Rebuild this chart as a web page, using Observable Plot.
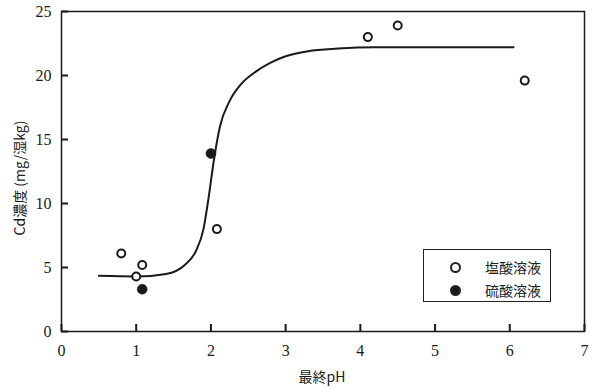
<!DOCTYPE html>
<html>
<head>
<meta charset="utf-8">
<script src="https://cdn.jsdelivr.net/npm/d3@7"></script>
<script src="https://cdn.jsdelivr.net/npm/@observablehq/plot@0.6"></script>
<style>
  body { margin: 0; background: #fff; }
  #wrap { position: relative; width: 598px; height: 389px; }
  #wrap svg text { font-family: "Liberation Serif", "DejaVu Serif", serif !important; }
  #wrap svg text.cjk { font-family: "Noto Sans CJK JP", sans-serif !important; }
  #legend {
    position: absolute; left: 423px; top: 249px; width: 128px; height: 53px;
    border: 1.5px solid #222; box-sizing: border-box; background: #fff;
    font-family: "Noto Sans CJK JP", sans-serif; font-size: 14px; color: #222;
  }
  .row { position: absolute; left: 0; height: 20px; line-height: 20px; }
  .row span.m { position: absolute; left: 26px; top: 5px; width: 7px; height: 7px; border-radius: 50%; border: 2px solid #222; box-sizing: content-box; }
  .row span.t { position: absolute; left: 61px; white-space: nowrap; }
</style>
</head>
<body>
<div id="wrap"><div id="legend"></div></div>
<script>
const hclX = [0.8, 1.0, 1.08, 2.08, 4.1, 4.5, 6.2];
const hclY = [6.1, 4.3, 5.2, 8.0, 23.0, 23.9, 19.6];
const h2so4X = [1.08, 2.0];
const h2so4Y = [3.3, 13.9];
const curveX = [0.5, 1.0, 1.4, 1.65, 1.8, 1.9, 1.97, 2.04, 2.12, 2.25, 2.4, 2.6, 2.8, 3.0, 3.3, 3.7, 4.2, 5.0, 6.05];
const curveY = [4.35, 4.3, 4.5, 5.2, 6.3, 8.0, 10.5, 13.4, 16.0, 18.0, 19.3, 20.3, 21.0, 21.5, 21.9, 22.1, 22.2, 22.2, 22.2];
const xTicks = [0, 1, 2, 3, 4, 5, 6, 7];
const yTicks = [0, 5, 10, 15, 20, 25];
const seriesNames = ["塩酸溶液", "硫酸溶液"];

const hcl = hclX.map((x, i) => ({x, y: hclY[i]}));
const h2so4 = h2so4X.map((x, i) => ({x, y: h2so4Y[i]}));
const curve = curveX.map((x, i) => ({x, y: curveY[i]}));

const ink = "#1a1a1a";
const serif = "Liberation Serif, DejaVu Serif, serif";
const W = 598, H = 389, mL = 61, mR = 14, mT = 11, mB = 58, tick = 7;
const xDom = [0, 7], yDom = [0, 25];
const tickDY = tick * (yDom[1] - yDom[0]) / (H - mT - mB);
const tickDX = tick * (xDom[1] - xDom[0]) / (W - mL - mR);

const chart = Plot.plot({
  width: W, height: H,
  marginLeft: mL, marginRight: mR, marginTop: mT, marginBottom: mB,
  x: {domain: xDom, axis: null},
  y: {domain: yDom, axis: null},
  marks: [
    Plot.text(xTicks, {x: d => d, y: yDom[0], text: d => String(d), dy: 19, fontSize: 16, fontFamily: serif, fill: ink}),
    Plot.text(yTicks, {x: xDom[0], y: d => d, text: d => String(d), dx: -10, textAnchor: "end", fontSize: 16, fontFamily: serif, fill: ink}),
    Plot.ruleX(xTicks, {x: d => d, y1: yDom[0], y2: yDom[0] + tickDY, stroke: ink, strokeWidth: 2}),
    Plot.ruleY(yTicks, {y: d => d, x1: xDom[0], x2: xDom[0] + tickDX, stroke: ink, strokeWidth: 2}),
    Plot.frame({stroke: ink, strokeWidth: 1.5}),
    Plot.line(curve, {x: "x", y: "y", curve: "monotone-x", stroke: ink, strokeWidth: 2}),
    Plot.dot(hcl, {x: "x", y: "y", r: 4, stroke: ink, strokeWidth: 2, fill: "#fff"}),
    Plot.dot(h2so4, {x: "x", y: "y", r: 5, fill: ink, stroke: ink, strokeWidth: 0.5})
  ]
});

const svg = d3.select(chart);
svg.attr("font-family", serif);
svg.append("text")
  .attr("class", "cjk")
  .attr("x", 322).attr("y", 382)
  .attr("text-anchor", "middle")
  .attr("font-family", "Noto Sans CJK JP, sans-serif")
  .attr("font-size", 14).attr("fill", ink)
  .text("最終pH");
svg.append("text")
  .attr("class", "cjk")
  .attr("transform", "translate(25,178) rotate(-90)")
  .attr("text-anchor", "middle")
  .attr("font-family", "Noto Sans CJK JP, sans-serif")
  .attr("font-size", 14).attr("fill", ink)
  .text("Cd濃度 (mg/湿kg)");

document.getElementById("wrap").prepend(chart);

const legend = document.getElementById("legend");
seriesNames.forEach((name, i) => {
  const row = document.createElement("div");
  row.className = "row";
  row.style.top = (7 + i * 23) + "px";
  row.style.width = "100%";
  const m = document.createElement("span");
  m.className = "m";
  m.style.background = i === 0 ? "#fff" : ink;
  const t = document.createElement("span");
  t.className = "t";
  t.textContent = name;
  row.append(m, t);
  legend.append(row);
});
</script>
</body>
</html>
